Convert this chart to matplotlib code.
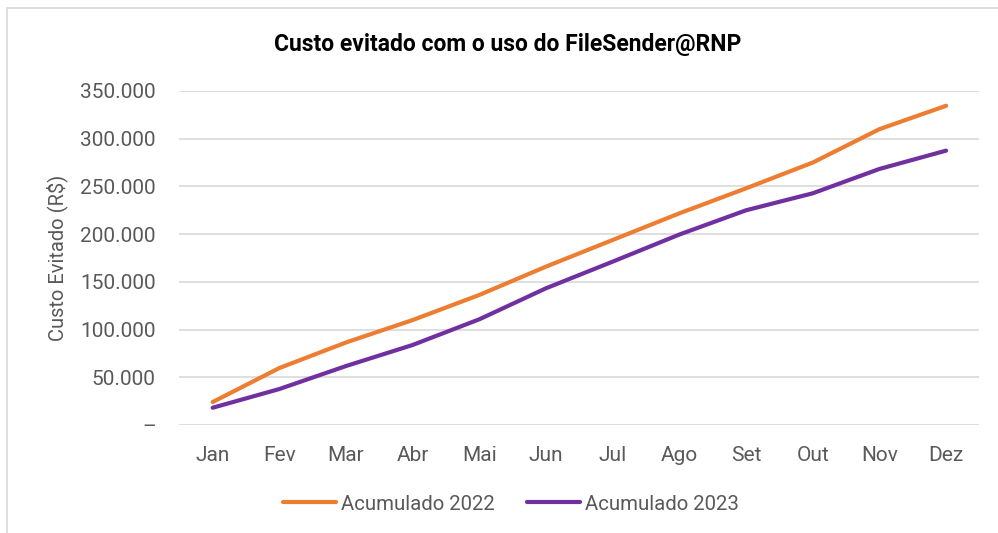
import matplotlib
matplotlib.use("Agg")
import matplotlib.pyplot as plt
from matplotlib.patches import Rectangle
from matplotlib.ticker import FuncFormatter, MultipleLocator

months = ["Jan", "Fev", "Mar", "Abr", "Mai", "Jun", "Jul", "Ago", "Set", "Out", "Nov", "Dez"]
acum_2022 = [24100, 59700, 86500, 110000, 136300, 166000, 193900, 221800, 248000, 275000, 310000, 334500]
acum_2023 = [18100, 37700, 61800, 83900, 110800, 143300, 171200, 199600, 225000, 242800, 268300, 287500]

plt.rcParams['font.family'] = ['Roboto', 'DejaVu Sans']

fig = plt.figure(figsize=(9.98, 5.33), dpi=100)
ax = fig.add_axes([0.1797, 0.2026, 0.8017, 0.6267])

# chart border
fig.patches.append(Rectangle((7/998, -0.05), 1.2, 1 - 8/533 + 0.05, transform=fig.transFigure,
                             fill=False, edgecolor='#d9d9d9', linewidth=1.2))

x = list(range(len(months)))
ax.plot(x, acum_2022, color='#ED7D31', lw=3, solid_capstyle='round', label='Acumulado 2022')
ax.plot(x, acum_2023, color='#7030A0', lw=3, solid_capstyle='round', label='Acumulado 2023')

ax.set_xlim(-0.5, 11.5)
ax.set_ylim(0, 350000)
ax.yaxis.set_major_locator(MultipleLocator(50000))

def fmt(v, pos):
    if abs(v) < 1:
        return '–'
    return f"{int(round(v)):,}".replace(',', '.')

ax.yaxis.set_major_formatter(FuncFormatter(fmt))
ax.set_xticks(x)
ax.set_xticklabels(months)
ax.grid(axis='y', color='#d9d9d9', lw=1.2)
ax.set_axisbelow(True)
for s in ax.spines.values():
    s.set_visible(False)
ax.tick_params(axis='both', length=0, colors='#595959', labelsize=15)
ax.tick_params(axis='x', pad=15)
ax.tick_params(axis='y', pad=17)

ax.set_ylabel('Custo Evitado (R$)', color='#595959', fontsize=14.5, labelpad=9)

fig.text(0.509, 1 - 45/533, 'Custo evitado com o uso do FileSender@RNP', ha='center', va='center',
         fontsize=16.5, fontweight='bold', color='black')

leg = fig.legend(loc='center', bbox_to_anchor=(0.512, 1 - 504/533), ncol=2, frameon=False,
                 fontsize=14.7, labelcolor='#595959', handlelength=2.6, handletextpad=0.25,
                 columnspacing=1.6)

fig.savefig('out.png', dpi=100)
